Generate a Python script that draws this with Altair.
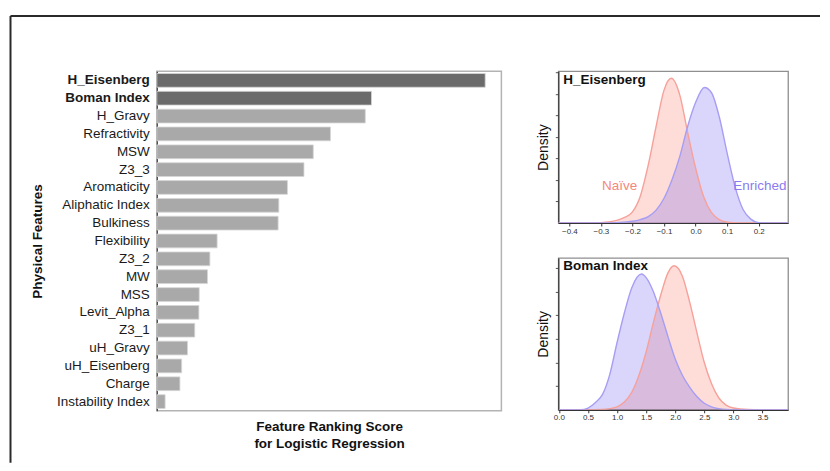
import altair as alt
import pandas as pd

# ---------------- data ----------------
features = ["H_Eisenberg", "Boman Index", "H_Gravy", "Refractivity", "MSW", "Z3_3",
            "Aromaticity", "Aliphatic Index", "Bulkiness", "Flexibility", "Z3_2", "MW",
            "MSS", "Levit_Alpha", "Z3_1", "uH_Gravy", "uH_Eisenberg", "Charge",
            "Instability Index"]
scores = [0.953, 0.623, 0.605, 0.504, 0.454, 0.427, 0.379, 0.354, 0.352, 0.175,
          0.154, 0.147, 0.123, 0.122, 0.110, 0.089, 0.072, 0.067, 0.024]
highlight = ["H_Eisenberg", "Boman Index"]

# H_Eisenberg densities
eis_naive_x = [-0.435, -0.35, -0.3, -0.275, -0.25, -0.225, -0.2, -0.175, -0.15, -0.125,
               -0.1, -0.077, -0.05, -0.025, 0.0, 0.025, 0.05, 0.075, 0.1, 0.125, 0.15, 0.293]
eis_naive_d = [0.0, 0.0, 0.02, 0.05, 0.12, 0.26, 0.52, 1.26, 2.7, 4.5,
               6.18, 6.73, 5.95, 4.2, 2.56, 1.24, 0.49, 0.16, 0.04, 0.01, 0.0, 0.0]
eis_enr_x = [-0.435, -0.3, -0.25, -0.2, -0.175, -0.15, -0.125, -0.1, -0.075, -0.05,
             -0.025, 0.0, 0.028, 0.05, 0.075, 0.1, 0.125, 0.15, 0.175, 0.2, 0.25, 0.293]
eis_enr_d = [0.0, 0.0, 0.02, 0.08, 0.16, 0.3, 0.6, 1.15, 2.0, 3.1,
             4.5, 5.6, 6.3, 6.07, 4.94, 3.25, 1.69, 0.64, 0.18, 0.02, 0.0, 0.0]

# Boman Index densities
bom_naive_x = [0.0, 0.5, 0.75, 0.875, 1.0, 1.125, 1.25, 1.375, 1.5, 1.625, 1.75, 1.875,
               1.98, 2.125, 2.25, 2.375, 2.5, 2.625, 2.75, 2.875, 3.0, 3.25, 3.5, 3.94]
bom_naive_d = [0.0, 0.0, 0.003, 0.01, 0.025, 0.065, 0.145, 0.29, 0.49, 0.74, 0.97, 1.16,
               1.22, 1.13, 0.91, 0.65, 0.40, 0.22, 0.10, 0.04, 0.015, 0.002, 0.0, 0.0]
bom_enr_x = [0.0, 0.375, 0.5, 0.625, 0.75, 0.875, 1.0, 1.125, 1.25, 1.42, 1.5, 1.625,
             1.75, 1.875, 2.0, 2.125, 2.25, 2.375, 2.5, 2.625, 2.75, 2.875, 3.0, 3.94]
bom_enr_d = [0.0, 0.0, 0.015, 0.06, 0.13, 0.3, 0.57, 0.82, 1.03, 1.15, 1.12, 1.0,
             0.82, 0.62, 0.43, 0.29, 0.19, 0.11, 0.055, 0.025, 0.01, 0.003, 0.0, 0.0]

groups = ["Naïve", "Enriched"]
eis_ticks = [-0.4, -0.3, -0.2, -0.1, 0.0, 0.1, 0.2]
bom_ticks = [0.0, 0.5, 1.0, 1.5, 2.0, 2.5, 3.0, 3.5]
eis_yticks = [1, 2, 3, 4, 5, 6, 7]
bom_yticks = [0.2, 0.4, 0.6, 0.8, 1.0, 1.2]

FONT = "Liberation Sans"
RED_FILL = "#fa8072"
RED_LINE = "#f6a19a"
BLUE_FILL = "#7b68ee"
BLUE_LINE = "#a69ef4"

# ---------------- bar chart ----------------
bar_df = pd.DataFrame({
    "feature": features,
    "score": scores,
    "kind": ["top" if f in highlight else "other" for f in features],
})

bold_expr = "indexof(['H_Eisenberg','Boman Index'], datum.value) >= 0 ? 'bold' : 'normal'"

bars = alt.Chart(bar_df).mark_bar(stroke="#d6d6d6", strokeWidth=0.8).encode(
    x=alt.X("score:Q", scale=alt.Scale(domain=[0, 1], nice=False),
            axis=alt.Axis(title=["Feature Ranking Score", "for Logistic Regression"],
                          labels=False, ticks=False, domain=False, grid=False,
                          titleFontWeight="bold", titleFontSize=13.5, titleLineHeight=17,
                          titlePadding=9, titleColor="#111", titleFont=FONT)),
    y=alt.Y("feature:N", sort=features,
            scale=alt.Scale(paddingInner=0.23, paddingOuter=0.13),
            axis=alt.Axis(title="Physical Features", ticks=False, grid=False,
                          labelFontSize=13.5, labelFont=FONT, labelColor="#1a1a1a",
                          labelPadding=7.5, labelFontWeight=alt.ExprRef(bold_expr),
                          domainColor="#444", domainWidth=1.2,
                          titleFontWeight="bold", titleFontSize=13.5, titleFont=FONT,
                          titleColor="#111", titlePadding=12)),
    color=alt.Color("kind:N", scale=alt.Scale(domain=["top", "other"],
                                              range=["#6b6b6b", "#a9a9a9"]), legend=None),
)

frame_data = alt.Data(values=[{}])
frame_top = alt.Chart(frame_data).mark_rule(color="#2a2a2a", strokeWidth=2).encode(
    x=alt.value(-146.5), x2=alt.value(664), y=alt.value(-55.3))
frame_left = alt.Chart(frame_data).mark_rule(color="#2a2a2a", strokeWidth=2).encode(
    x=alt.value(-146.5), y=alt.value(-55.3), y2=alt.value(392))

bar_chart = alt.layer(bars, frame_top, frame_left).properties(
    width=345, height=340,
    view=alt.ViewBackground(stroke="#b3b3b3", strokeWidth=1.5))


# ---------------- density panels ----------------
def density_panel(nx, nd, ex, ed, xdom, xticks, ydom, yticks, title, annotate):
    xenc = alt.X("x:Q", scale=alt.Scale(domain=xdom, nice=False, zero=False),
                 axis=alt.Axis(values=xticks, format=".1f", title=None, grid=False,
                               labelFontSize=8, labelFont=FONT, labelColor="#333",
                               labelFlush=False, labelPadding=1, tickSize=3,
                               tickColor="#333", domainColor="#333", domainWidth=1.2))
    yenc = alt.Y("density:Q", stack=None, scale=alt.Scale(domain=ydom, nice=False),
                 axis=alt.Axis(values=yticks, labels=False, grid=False, tickSize=3,
                               tickColor="#555", domainColor="#333", domainWidth=1.2,
                               title="Density", titleFontSize=14, titleFont=FONT,
                               titleFontWeight="normal", titleColor="#111",
                               titlePadding=4))
    naive = alt.Chart(pd.DataFrame({"x": nx, "density": nd, "group": groups[0]})).encode(
        x=xenc, y=yenc)
    enr = alt.Chart(pd.DataFrame({"x": ex, "density": ed, "group": groups[1]})).encode(
        x=xenc, y=yenc)
    layers = [
        naive.mark_area(color=RED_FILL, opacity=0.28, interpolate="monotone", clip=True),
        enr.mark_area(color=BLUE_FILL, opacity=0.28, interpolate="monotone", clip=True),
        naive.mark_line(color=RED_LINE, strokeWidth=1.4, interpolate="monotone", clip=True),
        enr.mark_line(color=BLUE_LINE, strokeWidth=1.4, interpolate="monotone", clip=True),
    ]
    ttl = alt.Chart(alt.Data(values=[{"t": title}])).mark_text(
        align="left", baseline="middle", fontSize=13.5, fontWeight="bold", font=FONT,
        color="#111").encode(x=alt.value(5), y=alt.value(8.5), text="t:N")
    layers.append(ttl)
    if annotate:
        lab_n = alt.Chart(alt.Data(values=[{"t": groups[0]}])).mark_text(
            align="right", baseline="middle", fontSize=13.5, font=FONT,
            color="#f4877c").encode(x=alt.value(79), y=alt.value(115), text="t:N")
        lab_e = alt.Chart(alt.Data(values=[{"t": groups[1]}])).mark_text(
            align="right", baseline="middle", fontSize=13.5, font=FONT,
            color="#8a7bf0").encode(x=alt.value(228.5), y=alt.value(115), text="t:N")
        layers += [lab_n, lab_e]
    return alt.layer(*layers).properties(
        width=230, height=152,
        view=alt.ViewBackground(stroke="#8f8f8f", strokeWidth=1.3))


top_panel = density_panel(eis_naive_x, eis_naive_d, eis_enr_x, eis_enr_d,
                          [-0.435, 0.293], eis_ticks, [0, 7.06], eis_yticks,
                          "H_Eisenberg", True)
bot_panel = density_panel(bom_naive_x, bom_naive_d, bom_enr_x, bom_enr_d,
                          [-0.01, 3.94], bom_ticks, [0, 1.286], bom_yticks,
                          "Boman Index", False)

right = alt.vconcat(top_panel, bot_panel, spacing=35, bounds="flush")

chart = alt.hconcat(bar_chart, right, spacing=57, bounds="flush").properties(
    padding={"left": 0, "top": 5, "right": 0, "bottom": 0},
    background="white",
).configure_view(stroke=None)

chart.save("out.html", embed_options={"renderer": "svg", "actions": False})
